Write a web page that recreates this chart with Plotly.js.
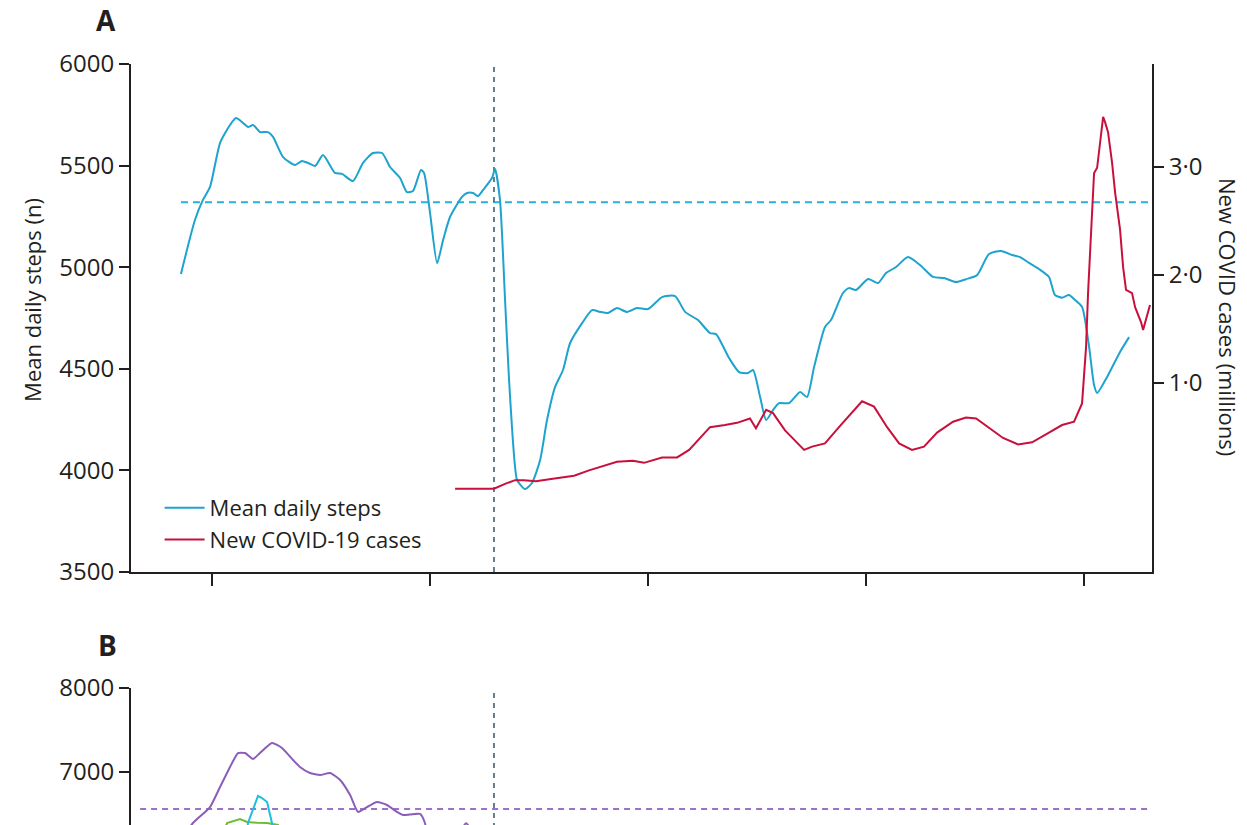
<!DOCTYPE html>
<html>
<head>
<meta charset="utf-8">
<script src="https://cdn.plot.ly/plotly-3.0.1.min.js"></script>
<style>
html,body{margin:0;padding:0;background:#fff;overflow:hidden;}
#chart{width:1247px;height:1150px;}
</style>
</head>
<body>
<div id="chart"></div>
<script>
// x values: months from the first x tick
const stepsMonths = [-1.71,-0.94,-0.50,-0.11,0.44,0.99,1.32,1.71,1.98,2.26,2.64,3.08,3.36,3.91,4.57,4.95,5.28,5.67,6.11,6.77,7.16,7.76,8.31,8.86,9.36,9.80,10.35,10.73,11.06,11.50,11.67,12.00,12.39,12.72,13.10,13.76,14.04,14.37,14.64,14.92,15.41,15.58,15.85,16.13,16.35,16.68,16.79,17.23,17.61,18.06,18.44,18.88,19.32,19.71,20.37,20.92,21.36,21.80,22.29,22.84,23.39,24.00,24.77,25.49,26.04,26.75,27.41,27.74,28.46,29.01,29.50,29.78,30.17,30.50,30.88,31.21,31.76,32.37,32.75,33.14,33.74,34.07,34.73,35.06,35.45,36.11,36.66,37.10,37.65,38.31,38.97,39.69,40.29,40.95,41.50,42.11,42.77,43.43,44.04,44.48,44.97,45.52,46.07,46.40,46.79,47.17,47.50,47.89,48.28,48.55,48.72,49.27,49.98,50.48];
const meanSteps = [4967,5232,5331,5395,5611,5700,5734,5710,5690,5700,5665,5665,5641,5542,5503,5523,5513,5498,5552,5464,5459,5424,5513,5562,5562,5493,5439,5370,5375,5478,5464,5267,5020,5134,5247,5346,5365,5365,5350,5380,5439,5483,5331,4839,4445,4017,3953,3908,3938,4051,4248,4410,4494,4627,4725,4789,4780,4775,4799,4780,4799,4794,4853,4858,4780,4740,4676,4671,4553,4484,4479,4494,4361,4248,4297,4331,4331,4386,4361,4509,4706,4740,4873,4897,4888,4942,4922,4971,5001,5050,5011,4952,4947,4927,4941,4961,5065,5080,5060,5050,5021,4991,4952,4863,4850,4863,4839,4804,4607,4420,4381,4460,4583,4656];

const casesMonths = [13.38,15.52,16.13,16.68,17.17,17.83,18.66,19.93,20.75,21.36,22.29,23.17,23.78,24.77,25.60,26.26,27.41,28.24,28.90,29.61,29.94,30.50,30.88,31.54,32.59,33.03,33.74,34.51,35.06,35.78,36.44,37.16,37.82,38.53,39.19,39.91,40.79,41.50,42.06,42.77,43.54,44.37,45.14,46.07,46.79,47.45,47.89,48.11,48.22,48.39,48.55,48.72,48.88,49.05,49.16,49.32,49.54,49.71,49.98,50.15,50.31,50.64,50.81,51.14,51.25,51.47,51.63];
const newCases = [0.02,0.02,0.065,0.10,0.10,0.09,0.11,0.14,0.19,0.22,0.27,0.28,0.26,0.31,0.31,0.38,0.59,0.61,0.63,0.67,0.58,0.75,0.72,0.56,0.38,0.41,0.44,0.59,0.69,0.83,0.78,0.59,0.44,0.38,0.41,0.54,0.64,0.68,0.67,0.58,0.49,0.43,0.45,0.54,0.61,0.64,0.81,1.33,1.83,2.40,2.94,2.99,3.25,3.46,3.41,3.32,3.04,2.76,2.42,2.07,1.86,1.83,1.70,1.56,1.49,1.61,1.72];

const stepsBaseline = 5320;
const lockdownMonth = 15.52;

// Panel B (only upper part visible)
const purpleMonths = [-1.49,-1.05,-0.11,0.44,0.99,1.43,1.82,2.26,2.64,3.30,3.85,4.46,4.84,5.39,5.95,6.50,7.05,7.60,8.04,8.53,9.08,9.63,10.18,10.51,11.45,11.72,11.89,12.55,13.76,13.98,14.20,14.75];
const purpleSteps = [6250,6393,6583,6821,7060,7226,7226,7155,7226,7345,7286,7143,7060,6988,6964,6988,6905,6726,6524,6583,6643,6607,6524,6488,6500,6393,6200,6000,6330,6390,6330,6000];
const greenMonths = [0.55,0.83,1.54,1.93,2.48,3.03,3.63,4.02];
const greenSteps = [6250,6393,6440,6405,6395,6393,6370,6250];
const cyanMonths = [1.87,1.98,2.53,2.75,3.03,3.30,3.41];
const cyanSteps = [6200,6393,6714,6690,6643,6393,6200];
const baselineB = 6560;

const xTicks = [0,12,24,36,48];
const xRange = [-4.46, 51.74];
const ink = '#231f20';
const font = 'Open Sans, Noto Sans, sans-serif';

const traces = [
  {x:[stepsMonths[0], xRange[1]], y:[stepsBaseline, stepsBaseline], mode:'lines', line:{color:'#27b1d9', width:2, dash:'7px,5px'}, showlegend:false, hoverinfo:'skip', xaxis:'x', yaxis:'y'},
  {x:[lockdownMonth, lockdownMonth], y:[3500, 6000], mode:'lines', line:{color:'#3f6273', width:1.6, dash:'5px,5px'}, showlegend:false, hoverinfo:'skip', xaxis:'x', yaxis:'y'},
  {x:stepsMonths, y:meanSteps, mode:'lines', name:'Mean daily steps', line:{color:'#1ea3cf', width:2, shape:'spline', smoothing:0.6}, xaxis:'x', yaxis:'y'},
  {x:casesMonths, y:newCases, mode:'lines', name:'New COVID-19 cases', line:{color:'#c8103d', width:2}, xaxis:'x', yaxis:'y2'},
  {x:[-3.96, 51.47], y:[baselineB, baselineB], mode:'lines', line:{color:'#9b72c8', width:2, dash:'6px,5px'}, showlegend:false, hoverinfo:'skip', xaxis:'x3', yaxis:'y3'},
  {x:[lockdownMonth, lockdownMonth], y:[3000, 8000], mode:'lines', line:{color:'#3f6273', width:1.6, dash:'5px,5px'}, showlegend:false, hoverinfo:'skip', xaxis:'x3', yaxis:'y3'},
  {x:purpleMonths, y:purpleSteps, mode:'lines', line:{color:'#8b5db8', width:2, shape:'spline', smoothing:0.5}, showlegend:false, xaxis:'x3', yaxis:'y3'},
  {x:greenMonths, y:greenSteps, mode:'lines', line:{color:'#6cbd35', width:2}, showlegend:false, xaxis:'x3', yaxis:'y3'},
  {x:cyanMonths, y:cyanSteps, mode:'lines', line:{color:'#1cc0dc', width:2}, showlegend:false, xaxis:'x3', yaxis:'y3'}
];

const axisCommon = {showgrid:false, zeroline:false, showline:true, linecolor:ink, linewidth:2, ticks:'outside', tickcolor:ink, tickwidth:2, tickfont:{family:font, size:24, color:ink}};

const layout = {
  width:1247, height:1150,
  margin:{l:131, r:95, t:64, b:42},
  paper_bgcolor:'#fff', plot_bgcolor:'#fff',
  font:{family:font, color:ink},
  showlegend:true,
  legend:{x:0.028, y:0.5594, xanchor:'left', yanchor:'middle', itemwidth:40, font:{family:font, size:22, color:ink}, bgcolor:'rgba(0,0,0,0)', tracegroupgap:0},
  xaxis:Object.assign({}, axisCommon, {range:xRange, domain:[0,1], anchor:'y', tickvals:xTicks, ticktext:xTicks.map(()=>''), ticklen:12}),
  yaxis:Object.assign({}, axisCommon, {range:[3500,6000], domain:[0.5134,1], anchor:'x', dtick:500, tick0:3500, ticklen:10}),
  yaxis2:Object.assign({}, axisCommon, {range:[-0.75,3.95], overlaying:'y', side:'right', anchor:'x', tickvals:[1,2,3], ticktext:['1·0','2·0','3·0'], ticklen:10}),
  xaxis3:Object.assign({}, axisCommon, {range:xRange, domain:[0,1], anchor:'y3', tickvals:xTicks, ticktext:xTicks.map(()=>''), ticklen:12, showline:false}),
  yaxis3:Object.assign({}, axisCommon, {range:[3000,8000], domain:[0,0.4023], anchor:'x3', tickvals:[7000,8000], ticklen:10}),
  annotations:[
    {text:'<b>A</b>', xref:'paper', yref:'paper', x:-0.0245, y:1.042, xanchor:'center', yanchor:'middle', showarrow:false, font:{family:font, size:28, color:ink}},
    {text:'<b>B</b>', xref:'paper', yref:'paper', x:-0.0235, y:0.4435, xanchor:'center', yanchor:'middle', showarrow:false, font:{family:font, size:28, color:ink}},
    {text:'Mean daily steps (n)', xref:'paper', yref:'paper', x:-0.097, y:0.774, xanchor:'center', yanchor:'middle', textangle:-90, showarrow:false, font:{family:font, size:22, color:ink}},
    {text:'New COVID cases (millions)', xref:'paper', yref:'paper', x:1.0744, y:0.7577, xanchor:'center', yanchor:'middle', textangle:90, showarrow:false, font:{family:font, size:22, color:ink}}
  ]
};

Plotly.newPlot('chart', traces, layout, {displayModeBar:false, staticPlot:true});
</script>
</body>
</html>
